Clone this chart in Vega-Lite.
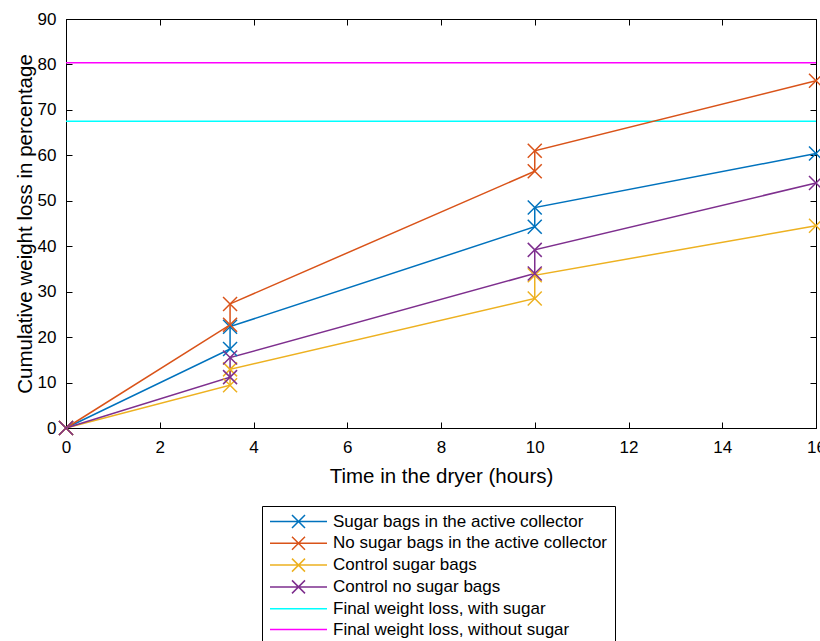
{
  "$schema": "https://vega.github.io/schema/vega-lite/v6.json",
  "width": 750,
  "height": 409,
  "autosize": "none",
  "padding": {"left": 66, "top": 19, "right": 4, "bottom": 213},
  "background": "white",
  "config": {
    "view": {"stroke": "black", "strokeWidth": 1},
    "font": "Liberation Sans",
    "axis": {"grid": false, "domainColor": "black", "tickColor": "black", "labelColor": "black", "titleColor": "black", "labelFontSize": 17, "titleFontSize": 20.5, "titleFontWeight": "normal", "labelFont": "Liberation Sans", "titleFont": "Liberation Sans", "tickSize": -6, "domainWidth": 1, "tickWidth": 1, "labelFlush": false}
  },
  "datasets": {
    "series": [
      {"series": "Sugar bags in the active collector", "t": 0, "value": 0, "ord": 0},
      {"series": "Sugar bags in the active collector", "t": 3.5, "value": 17.4, "ord": 1},
      {"series": "Sugar bags in the active collector", "t": 3.5, "value": 22.3, "ord": 2},
      {"series": "Sugar bags in the active collector", "t": 10, "value": 44.3, "ord": 3},
      {"series": "Sugar bags in the active collector", "t": 10, "value": 48.5, "ord": 4},
      {"series": "Sugar bags in the active collector", "t": 16, "value": 60.4, "ord": 5},
      {"series": "No sugar bags in the active collector", "t": 0, "value": 0, "ord": 0},
      {"series": "No sugar bags in the active collector", "t": 3.5, "value": 22.7, "ord": 1},
      {"series": "No sugar bags in the active collector", "t": 3.5, "value": 27.3, "ord": 2},
      {"series": "No sugar bags in the active collector", "t": 10, "value": 56.5, "ord": 3},
      {"series": "No sugar bags in the active collector", "t": 10, "value": 61.0, "ord": 4},
      {"series": "No sugar bags in the active collector", "t": 16, "value": 76.4, "ord": 5},
      {"series": "Control sugar bags", "t": 0, "value": 0, "ord": 0},
      {"series": "Control sugar bags", "t": 3.5, "value": 9.4, "ord": 1},
      {"series": "Control sugar bags", "t": 3.5, "value": 12.9, "ord": 2},
      {"series": "Control sugar bags", "t": 10, "value": 28.5, "ord": 3},
      {"series": "Control sugar bags", "t": 10, "value": 33.6, "ord": 4},
      {"series": "Control sugar bags", "t": 16, "value": 44.5, "ord": 5},
      {"series": "Control no sugar bags", "t": 0, "value": 0, "ord": 0},
      {"series": "Control no sugar bags", "t": 3.5, "value": 11.2, "ord": 1},
      {"series": "Control no sugar bags", "t": 3.5, "value": 15.5, "ord": 2},
      {"series": "Control no sugar bags", "t": 10, "value": 34.0, "ord": 3},
      {"series": "Control no sugar bags", "t": 10, "value": 39.2, "ord": 4},
      {"series": "Control no sugar bags", "t": 16, "value": 53.9, "ord": 5}
    ],
    "refs": [
      {"series": "Final weight loss, with sugar", "value": 67.5},
      {"series": "Final weight loss, without sugar", "value": 80.4}
    ]
  },
  "encoding": {
    "color": {
      "field": "series",
      "type": "nominal",
      "scale": {
        "domain": ["Sugar bags in the active collector", "No sugar bags in the active collector", "Control sugar bags", "Control no sugar bags", "Final weight loss, with sugar", "Final weight loss, without sugar"],
        "range": ["#0072BD", "#D95319", "#EDB120", "#7E2F8E", "#00FFFF", "#FF00FF"]
      },
      "legend": {
        "title": null,
        "orient": "none",
        "legendX": 196,
        "legendY": 487,
        "strokeColor": "black",
        "fillColor": "white",
        "padding": 7,
        "symbolType": "M-5.7,0H5.7M-1.3,-1.3L1.3,1.3M-1.3,1.3L1.3,-1.3",
        "symbolSize": 100,
        "symbolStrokeWidth": 1.5,
        "labelFontSize": 17,
        "labelFont": "Liberation Sans",
        "labelColor": "black",
        "labelOffset": 6,
        "labelLimit": 400,
        "rowPadding": 2.8,
        "encode": {
          "symbols": {
            "update": {
              "shape": {"signal": "indexof(datum.value, 'Final') === 0 ? 'M-5.7,0H5.7' : 'M-5.7,0H5.7M-1.3,-1.3L1.3,1.3M-1.3,1.3L1.3,-1.3'"},
              "fill": {"value": "transparent"},
              "x": {"value": 29.5}
            }
          },
          "labels": {
            "update": {"x": {"value": 64}}
          }
        }
      }
    }
  },
  "layer": [
    {
      "data": {"name": "refs"},
      "mark": {"type": "rule", "strokeWidth": 1.5},
      "encoding": {
        "y": {"field": "value", "type": "quantitative", "scale": {"domain": [0, 90]}, "axis": null}
      }
    },
    {
      "data": {"name": "series"},
      "mark": {"type": "line", "strokeWidth": 1.5},
      "encoding": {
        "x": {"field": "t", "type": "quantitative", "scale": {"domain": [0, 16], "nice": false}, "axis": {"orient": "bottom", "values": [0, 2, 4, 6, 8, 10, 12, 14, 16], "title": "Time in the dryer (hours)", "labelPadding": 17, "titlePadding": 11}},
        "y": {"field": "value", "type": "quantitative", "scale": {"domain": [0, 90]}, "axis": {"orient": "left", "values": [0, 10, 20, 30, 40, 50, 60, 70, 80, 90], "title": "Cumulative weight loss in percentage", "labelPadding": 16, "titlePadding": 2}},
        "order": {"field": "ord", "type": "quantitative"}
      }
    },
    {
      "data": {"name": "series"},
      "mark": {"type": "point", "shape": "M-1,-1L1,1M-1,1L1,-1", "filled": false, "size": 196, "strokeWidth": 1.5, "opacity": 1},
      "encoding": {
        "x": {"field": "t", "type": "quantitative", "axis": null},
        "y": {"field": "value", "type": "quantitative", "axis": null}
      }
    },
    {
      "data": {"name": "series"},
      "mark": {"type": "point", "opacity": 0},
      "encoding": {
        "x": {"field": "t", "type": "quantitative", "axis": {"orient": "top", "values": [0, 2, 4, 6, 8, 10, 12, 14, 16], "labels": false, "title": null}},
        "y": {"field": "value", "type": "quantitative", "axis": {"orient": "right", "values": [0, 10, 20, 30, 40, 50, 60, 70, 80, 90], "labels": false, "title": null}}
      }
    }
  ],
  "resolve": {"axis": {"x": "independent", "y": "independent"}}
}
